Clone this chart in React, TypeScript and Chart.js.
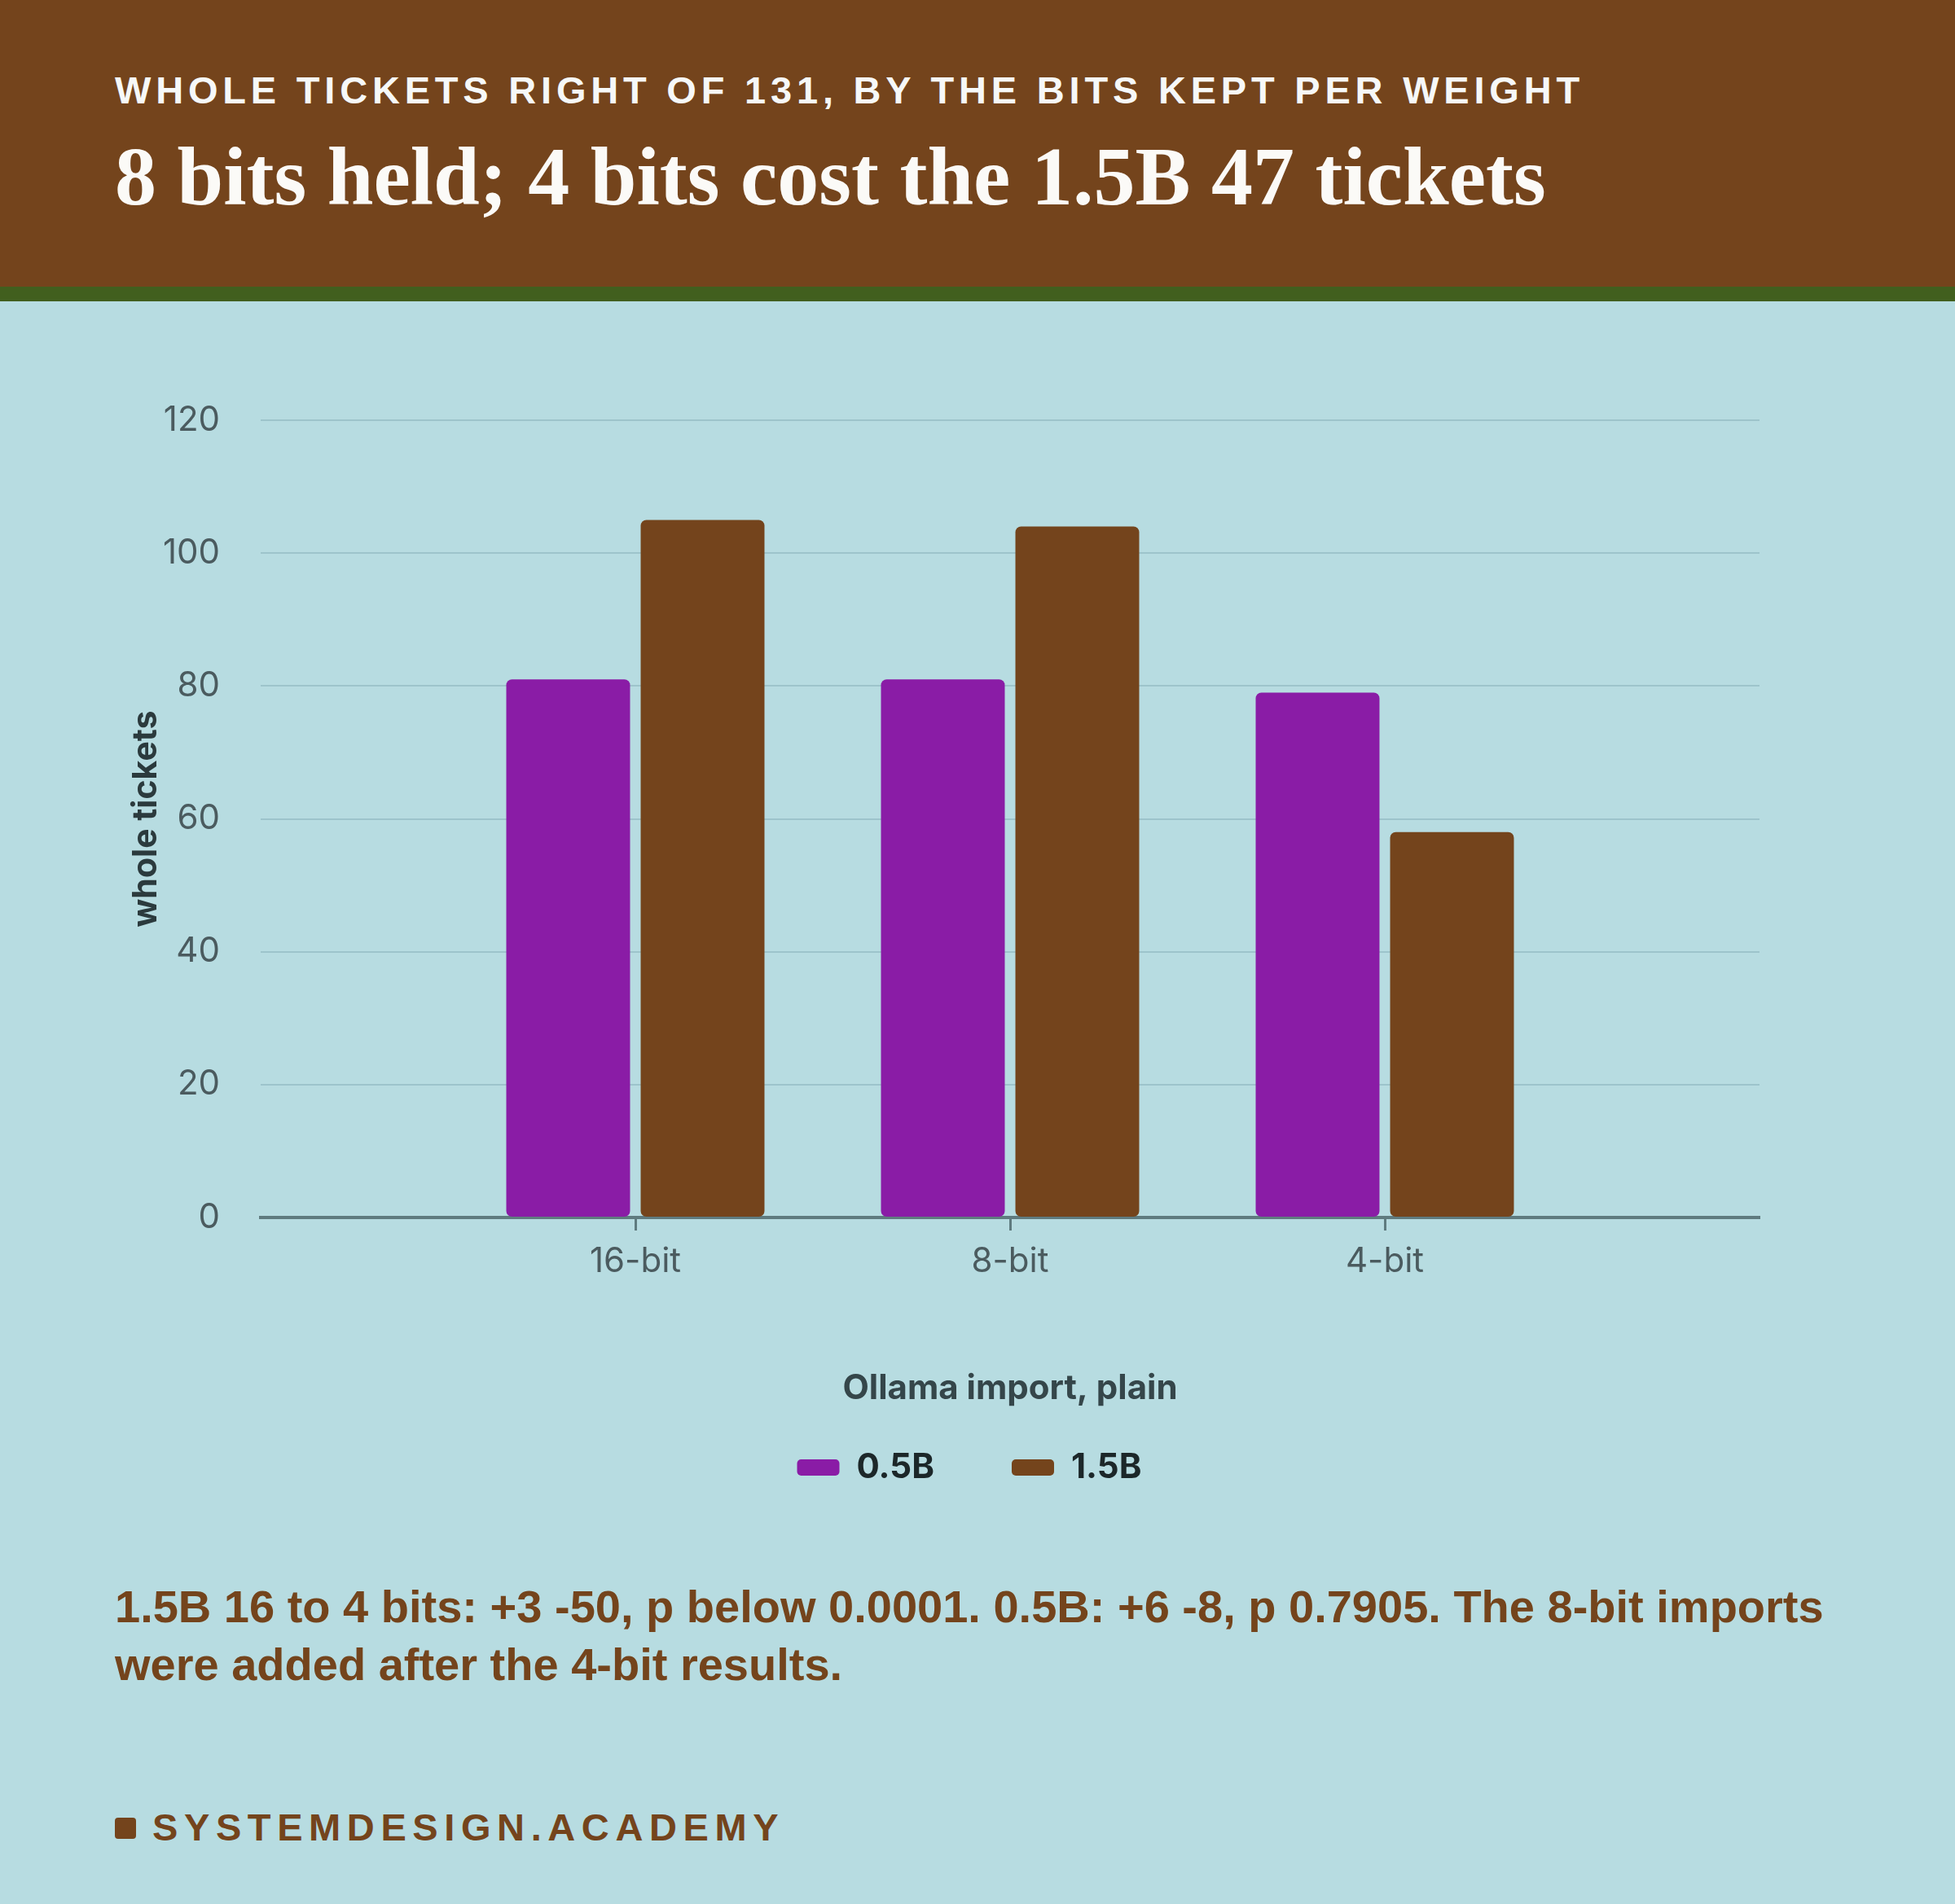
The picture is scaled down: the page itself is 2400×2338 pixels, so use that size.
import { useEffect, useRef } from "react"
import Chart from "chart.js/auto"

// valores
const categories = ["16-bit", "8-bit", "4-bit"]
const seriesNames = ["0.5B", "1.5B"]
const model05 = [81, 81, 79]
const model15 = [105, 104, 58]
const yMax = 120
const yStep = 20

const kicker = "WHOLE TICKETS RIGHT OF 131, BY THE BITS KEPT PER WEIGHT"
const headline = "8 bits held; 4 bits cost the 1.5B 47 tickets"
const note =
  "1.5B 16 to 4 bits: +3 -50, p below 0.0001. 0.5B: +6 -8, p 0.7905. The 8-bit imports were added after the 4-bit results."
const brand = "SYSTEMDESIGN.ACADEMY"

const BROWN = "#74441c"
const PURPLE = "#8a1ca6"
const BG = "#b7dce1"

function TicketsChart() {
  const chartRef = useRef<HTMLCanvasElement>(null)
  const chartInstance = useRef<Chart | null>(null)

  useEffect(() => {
    if (!chartRef.current) return
    if (chartInstance.current) chartInstance.current.destroy()

    // etiquetas vacías a los lados para dejar aire, como en el original
    const labels = ["", ...categories, ""]
    const pad = (arr: number[]) => [null, ...arr, null]

    const ctx = chartRef.current.getContext("2d")
    if (!ctx) return
    chartInstance.current = new Chart(ctx, {
      type: "bar",
      data: {
        labels,
        datasets: [
          {
            label: seriesNames[0],
            data: pad(model05),
            backgroundColor: PURPLE,
            borderRadius: 7,
            borderSkipped: false,
            categoryPercentage: 0.7174,
            barPercentage: 0.921,
          },
          {
            label: seriesNames[1],
            data: pad(model15),
            backgroundColor: BROWN,
            borderRadius: 7,
            borderSkipped: false,
            categoryPercentage: 0.7174,
            barPercentage: 0.921,
          },
        ],
      },
      options: {
        responsive: true,
        maintainAspectRatio: false,
        animation: false,
        devicePixelRatio: 1,
        layout: { padding: { top: 146, left: 0, right: 0, bottom: 0 } },
        plugins: {
          tooltip: { enabled: false },
          legend: {
            position: "bottom",
            labels: {
              boxWidth: 52,
              boxHeight: 20,
              useBorderRadius: true,
              borderRadius: 5,
              padding: 95,
              color: "#1c2729",
              font: { family: "Inter", size: 42, weight: "bold" },
            },
          },
        },
        scales: {
          x: {
            offset: false,
            afterFit: (scale: any) => {
              scale.height = 191
            },
            grid: {
              display: true,
              drawOnChartArea: false,
              drawTicks: true,
              offset: false,
              tickLength: 16,
              tickWidth: 3,
              tickColor: (c: any) => (c.tick && c.tick.label ? "#5f7b7f" : "rgba(0,0,0,0)"),
            },
            border: { display: true, color: "#5f7b7f", width: 4 },
            ticks: {
              autoSkip: false,
              maxRotation: 0,
              padding: 13,
              color: "#4b5b5f",
              font: { family: "Inter", size: 42 },
            },
            title: {
              display: true,
              text: "Ollama import, plain",
              color: "#35464a",
              font: { family: "Inter", size: 42, weight: "bold" },
              padding: { top: 0, bottom: -45 },
            },
          },
          y: {
            min: 0,
            max: yMax,
            afterFit: (scale: any) => {
              scale.width = 179
            },
            grid: { color: "#9dc4cb", lineWidth: 2, drawTicks: false },
            border: { display: false },
            ticks: {
              stepSize: yStep,
              padding: 50,
              color: "#4b5b5f",
              font: { family: "Inter", size: 42 },
            },
            title: {
              display: true,
              text: "whole tickets",
              color: "#2b3a3d",
              font: { family: "Inter", size: 41, weight: "bold" },
              padding: { top: 14, bottom: 0 },
            },
          },
          // eje vacío a la derecha: solo reserva margen para que la leyenda quede centrada en el lienzo
          spacer: {
            type: "linear",
            position: "right",
            display: true,
            min: 0,
            max: 1,
            afterFit: (scale: any) => {
              scale.width = 79
            },
            grid: { display: false },
            border: { display: false },
            ticks: { display: false },
          },
        },
      },
    })

    return () => {
      if (chartInstance.current) {
        chartInstance.current.destroy()
        chartInstance.current = null
      }
    }
  }, [])

  return (
    <div style={{ position: "absolute", left: 141, top: 370, width: 2098, height: 1463 }}>
      <canvas ref={chartRef}></canvas>
    </div>
  )
}

export default function App() {
  return (
    <div style={{ position: "relative", width: 2400, height: 2338, background: BG, overflow: "hidden" }}>
      <style>{"body{margin:0}"}</style>
      <div style={{ position: "absolute", left: 0, top: 0, width: 2400, height: 352, background: BROWN }} />
      <div style={{ position: "absolute", left: 0, top: 352, width: 2400, height: 18, background: "#415f1e" }} />
      <div
        style={{
          position: "absolute",
          left: 141,
          top: 87,
          fontFamily: "'Liberation Sans', Arial, sans-serif",
          fontWeight: 700,
          fontSize: 47,
          lineHeight: 1,
          letterSpacing: 5.8,
          color: "#f6f8f8",
          whiteSpace: "nowrap",
        }}
      >
        {kicker}
      </div>
      <div
        style={{
          position: "absolute",
          left: 141,
          top: 166,
          fontFamily: "'Liberation Serif', serif",
          fontWeight: 700,
          fontSize: 102,
          lineHeight: 1,
          color: "#fbfaf7",
          whiteSpace: "nowrap",
        }}
      >
        {headline}
      </div>
      <TicketsChart />
      <div
        style={{
          position: "absolute",
          left: 141,
          top: 1937,
          width: 2140,
          fontFamily: "'Liberation Sans', Arial, sans-serif",
          fontWeight: 700,
          fontSize: 56,
          lineHeight: "71px",
          color: BROWN,
        }}
      >
        {note}
      </div>
      <div
        style={{
          position: "absolute",
          left: 141,
          top: 2232,
          width: 26,
          height: 26,
          borderRadius: 4,
          background: BROWN,
        }}
      />
      <div
        style={{
          position: "absolute",
          left: 187,
          top: 2220,
          fontFamily: "'Liberation Sans', Arial, sans-serif",
          fontWeight: 700,
          fontSize: 47,
          lineHeight: 1,
          letterSpacing: 7.6,
          color: BROWN,
          whiteSpace: "nowrap",
        }}
      >
        {brand}
      </div>
    </div>
  )
}
